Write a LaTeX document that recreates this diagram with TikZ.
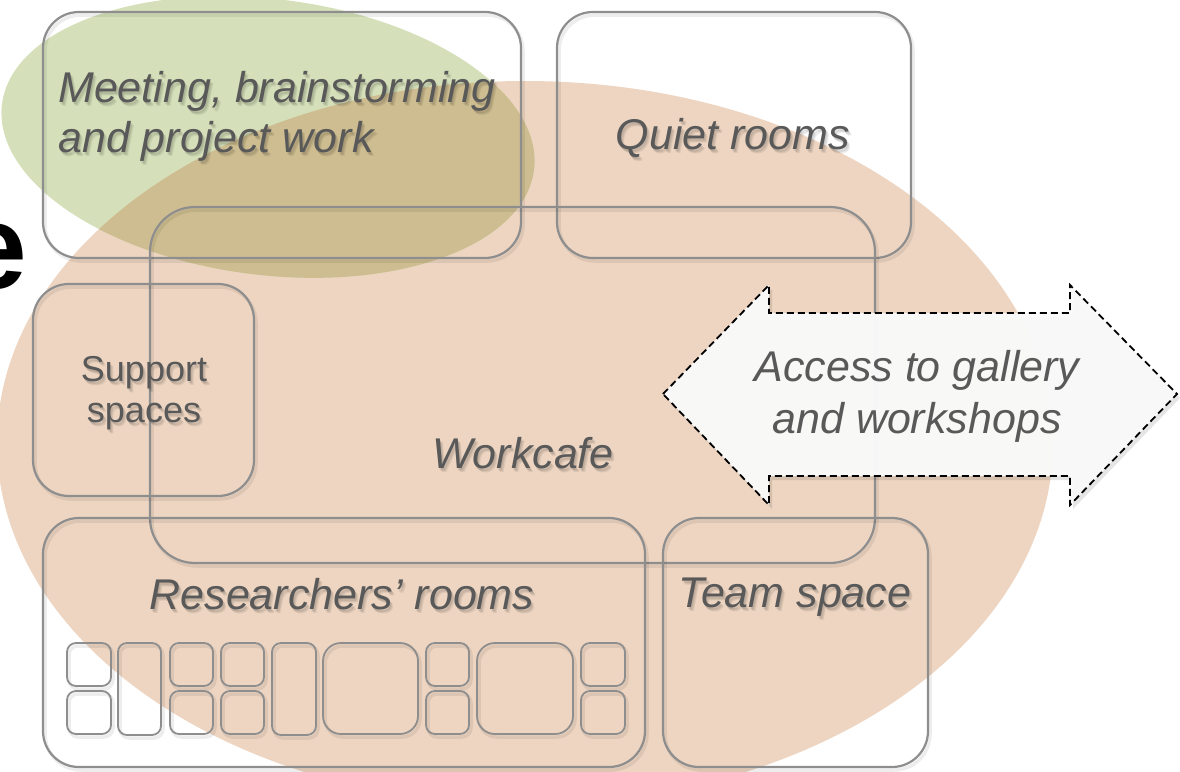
\documentclass[tikz,border=0pt]{standalone}
\usepackage{fontspec}
\setmainfont{Liberation Sans}
\usetikzlibrary{calc}
\definecolor{roomline}{HTML}{8E8E8E}
\definecolor{labelgray}{HTML}{595959}
\definecolor{cafebrown}{HTML}{EDD5C1}
\definecolor{meetgreen}{HTML}{D5E0BA}
\definecolor{mixolive}{HTML}{CEBD90}
\tikzset{
  shade line/.style={preaction={draw=black, opacity=.07, line width=3.5pt,
                     transform canvas={shift={(2pt,-3pt)}}}},
  room/.style={draw=roomline, line width=2.2pt, rounded corners=#1, shade line},
  room/.default=36pt,
  cell/.style={room=#1, line width=1.8pt},
  cell/.default=9pt,
  lbl/.style={font=\fontsize{43}{50}\selectfont\itshape, text=labelgray,
              inner sep=0pt, align=center},
  gate/.style={draw=black, fill=white!98!black, fill opacity=.97, line width=1.8pt,
               dash pattern=on 7pt off 4pt},
}
\newcommand\shadowlabel[4][]{%
  \foreach \dd in {1,2,3}
    \node[lbl,#1,text=black,opacity=.07] at ($(#3)+(\dd,\dd+1)$) {#4};
  \node[lbl,#1] (#2) at (#3) {#4};}

\begin{document}
\begin{tikzpicture}[x=1pt,y=-1pt]
\useasboundingbox (0,0) rectangle (1180,771);
\clip (0,0) rectangle (1180,771);

% zones
\fill[cafebrown] (525,443) ellipse [x radius=528, y radius=362];
\fill[meetgreen, rotate around={-7:(268,137)}] (268,137) ellipse [x radius=268, y radius=138];
\begin{scope}
  \clip[rotate around={-7:(268,137)}] (268,137) ellipse [x radius=268, y radius=138];
  \fill[mixolive] (525,443) ellipse [x radius=528, y radius=362];
\end{scope}

% cut-off title letter
\node[anchor=base east, inner sep=0pt, font=\fontsize{120}{120}\selectfont\bfseries] (cutoff) at (27,288) {e};

% rooms
\draw[room] (43,12) rectangle (521,258);
\draw[room] (557,12) rectangle (911,258);
\draw[room=45pt] (150,207) rectangle (875,563);
\draw[room] (33,284) rectangle (254,496);
\draw[room] (43,518) rectangle (645,767);
\draw[room] (663,518) rectangle (928,767);

% researchers' cells
\foreach \xa/\xb in {67/111,170/213,221/264,426/469,581/625} {
  \draw[cell] (\xa,643) rectangle (\xb,686);
  \draw[cell] (\xa,691) rectangle (\xb,734);
}
\foreach \xa/\xb in {118/161,272/316}
  \draw[cell] (\xa,643) rectangle (\xb,735);
\foreach \xa/\xb in {323/418,477/573}
  \draw[cell=18pt] (\xa,643) rectangle (\xb,734);

% access arrow
\fill[black, opacity=.1, shift={(3,4)}] (663,394) -- (769,285) -- (769,313) -- (1070,313) -- (1070,285)
  -- (1177,394) -- (1070,505) -- (1070,476) -- (769,476) -- (769,505) -- cycle;
\draw[gate] (663,394) -- (769,285) -- (769,313) -- (1070,313) -- (1070,285)
  -- (1177,394) -- (1070,505) -- (1070,476) -- (769,476) -- (769,505) -- cycle;

% labels
\shadowlabel[anchor=west, align=left]{meetlbl}{58,116}{Meeting, brainstorming\\and project work}
\shadowlabel{quietlbl}{733,138}{Quiet rooms}
\shadowlabel[font=\fontsize{36}{41}\selectfont]{supportlbl}{144,393}{Support\\spaces}
\shadowlabel{cafelbl}{523,453}{Workcafe}
\shadowlabel{reslbl}{342,594}{Researchers’ rooms}
\shadowlabel{teamlbl}{795,597}{Team space}
\node[lbl, font=\fontsize{43}{52}\selectfont\itshape] (accesslbl) at (917,396) {Access to gallery\\and workshops};
\end{tikzpicture}
\end{document}
